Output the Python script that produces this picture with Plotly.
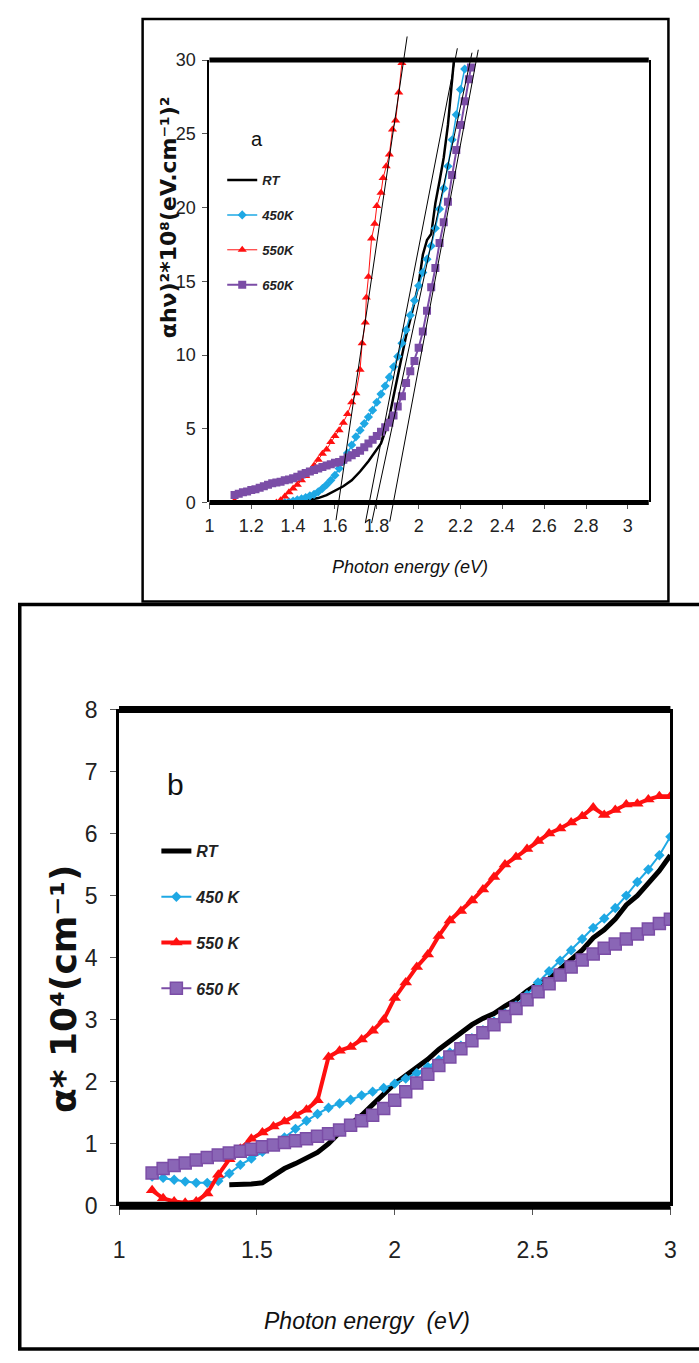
import plotly.graph_objects as go

W, H = 699, 1363
ARIAL = "Liberation Sans, Arial, sans-serif"
WIDE = "DejaVu Sans, Verdana, sans-serif"

# ---------------- Panel (a): (alpha h nu)^2 * 1e8 vs photon energy ----------------
a_rt_x = [1.12, 1.20, 1.28, 1.36, 1.40, 1.44, 1.48, 1.52, 1.56, 1.60, 1.64, 1.68, 1.72, 1.76,
          1.80, 1.82, 1.84, 1.86, 1.88, 1.90, 1.92, 1.94, 1.96, 1.98, 2.00, 2.02, 2.04, 2.06,
          2.08, 2.10, 2.12, 2.14, 2.16, 2.17]
a_rt_y = [0, 0, 0, 0, 0.02, 0.08, 0.18, 0.3, 0.5, 0.8, 1.1, 1.5, 2.1, 2.8,
          3.6, 4.0, 4.8, 5.8, 7.2, 8.6, 9.8, 11.3, 12.4, 13.6, 14.8, 16.8, 17.8, 18.2,
          20.3, 21.8, 23.4, 25.6, 28.6, 30.2]

a_450_x = [1.36, 1.38, 1.40, 1.42, 1.44, 1.46, 1.48, 1.50, 1.52, 1.54, 1.56, 1.58, 1.60, 1.62,
           1.64, 1.66, 1.68, 1.70, 1.72, 1.74, 1.76, 1.78, 1.80, 1.82, 1.84, 1.86, 1.88, 1.90,
           1.92, 1.94, 1.96, 1.98, 2.00, 2.02, 2.04, 2.06, 2.08, 2.10, 2.12, 2.14, 2.16, 2.18,
           2.20, 2.22]
a_450_y = [0.0, 0.05, 0.1, 0.18, 0.25, 0.33, 0.45, 0.55, 0.72, 0.95, 1.2, 1.5, 1.85, 2.3,
           2.8, 3.35, 3.9, 4.45, 4.9, 5.35, 5.8, 6.25, 6.8, 7.35, 7.9, 8.5, 9.2, 9.9,
           10.8, 11.7, 12.7, 13.7, 14.7, 15.6, 16.5, 17.4, 18.6, 19.9, 21.3, 22.8, 24.6, 26.3,
           28.0, 29.4]

a_550_x = [1.12, 1.14, 1.16, 1.18, 1.20, 1.22, 1.24, 1.26, 1.28, 1.30, 1.32, 1.34, 1.36, 1.38,
           1.40, 1.42, 1.44, 1.46, 1.48, 1.50, 1.52, 1.54, 1.56, 1.58, 1.60, 1.62, 1.64, 1.66,
           1.68, 1.70, 1.72, 1.73, 1.745, 1.75, 1.76, 1.775, 1.79, 1.80, 1.82, 1.83, 1.845, 1.86,
           1.875, 1.89, 1.905, 1.92]
a_550_y = [0.1, -0.1, -0.2, -0.3, -0.35, -0.35, -0.35, -0.3, -0.25, -0.15, 0.0, 0.15, 0.4, 0.7,
           0.95, 1.2, 1.5, 1.8, 2.1, 2.5, 2.9, 3.3, 3.6, 4.1, 4.5, 4.9, 5.4, 6.0,
           6.8, 7.4, 9.0, 10.8, 12.2, 13.9, 15.3, 17.9, 18.9, 20.1, 21.0, 22.0, 22.8, 23.6,
           25.3, 25.9, 27.8, 29.8]

a_650_x = [1.12, 1.14, 1.16, 1.18, 1.20, 1.22, 1.24, 1.26, 1.28, 1.30, 1.32, 1.34, 1.36, 1.38,
           1.40, 1.42, 1.44, 1.46, 1.48, 1.50, 1.52, 1.54, 1.56, 1.58, 1.60, 1.62, 1.64, 1.66,
           1.68, 1.70, 1.72, 1.74, 1.76, 1.78, 1.80, 1.82, 1.84, 1.86, 1.88, 1.90, 1.92, 1.94,
           1.96, 1.98, 2.00, 2.02, 2.04, 2.06, 2.08, 2.10, 2.12, 2.14, 2.16, 2.18, 2.20, 2.22,
           2.24, 2.25]
a_650_y = [0.5, 0.6, 0.7, 0.75, 0.85, 0.9, 1.0, 1.1, 1.2, 1.3, 1.35, 1.4, 1.5, 1.55,
           1.65, 1.75, 1.9, 2.0, 2.1, 2.2, 2.3, 2.4, 2.5, 2.6, 2.7, 2.75, 2.9, 3.05,
           3.2, 3.35, 3.5, 3.75, 4.0, 4.25, 4.5, 4.8, 5.1, 5.4, 5.9, 6.5, 7.2, 8.1,
           8.9, 9.6, 10.5, 11.6, 13.0, 14.6, 15.9, 17.6, 19.0, 20.4, 22.2, 23.9, 25.6, 27.2,
           28.7, 29.5]

# Linear extrapolation lines (Tauc fits): start/end points in data units
tan_x0 = [1.605, 1.745, 1.775, 1.862]
tan_y0 = [-1.2, -1.4, -1.4, -1.3]
tan_x1 = [1.945, 2.185, 2.255, 2.285]
tan_y1 = [31.6, 30.8, 30.5, 30.7]

a_xticks = [1.0, 1.2, 1.4, 1.6, 1.8, 2.0, 2.2, 2.4, 2.6, 2.8, 3.0]
a_xtext = ["1", "1.2", "1.4", "1.6", "1.8", "2", "2.2", "2.4", "2.6", "2.8", "3"]
a_yticks = [0, 5, 10, 15, 20, 25, 30]
A_XR = [1.0, 3.1]
A_YR = [0, 30]

# ---------------- Panel (b): alpha * 1e4 vs photon energy ----------------
b_energy = [1.12, 1.16, 1.20, 1.24, 1.28, 1.32, 1.36, 1.40, 1.44, 1.48, 1.52, 1.56, 1.60, 1.64,
            1.68, 1.72, 1.76, 1.80, 1.84, 1.88, 1.92, 1.96, 2.00, 2.04, 2.08, 2.12, 2.16, 2.20,
            2.24, 2.28, 2.32, 2.36, 2.40, 2.44, 2.48, 2.52, 2.56, 2.60, 2.64, 2.68, 2.72, 2.76,
            2.80, 2.84, 2.88, 2.92, 2.96, 3.00]
b_rt = [None, None, None, None, None, None, None, 0.34, 0.34, 0.35, 0.37, 0.48, 0.60, 0.68,
        0.76, 0.86, 1.00, 1.18, 1.32, 1.46, 1.63, 1.80, 1.97, 2.10, 2.22, 2.36, 2.52, 2.65,
        2.80, 2.92, 3.02, 3.10, 3.22, 3.32, 3.46, 3.58, 3.66, 3.82, 3.96, 4.12, 4.32, 4.45,
        4.62, 4.85, 5.00, 5.20, 5.40, 5.65]
b_450 = [0.47, 0.45, 0.42, 0.39, 0.37, 0.37, 0.40, 0.52, 0.66, 0.76, 0.87, 0.97, 1.10, 1.24,
         1.37, 1.48, 1.58, 1.65, 1.71, 1.78, 1.84, 1.90, 1.97, 2.05, 2.14, 2.24, 2.35, 2.47,
         2.58, 2.70, 2.83, 2.97, 3.10, 3.23, 3.40, 3.60, 3.78, 3.95, 4.12, 4.30, 4.48, 4.63,
         4.80, 5.00, 5.22, 5.42, 5.65, 5.95]
b_550 = [0.25, 0.12, 0.07, 0.05, 0.07, 0.20, 0.50, 0.75, 0.92, 1.08, 1.18, 1.28, 1.36, 1.45,
         1.55, 1.70, 2.40, 2.50, 2.56, 2.68, 2.82, 3.00, 3.35, 3.60, 3.85, 4.05, 4.35, 4.60,
         4.75, 4.92, 5.10, 5.30, 5.50, 5.62, 5.75, 5.88, 6.00, 6.08, 6.18, 6.28, 6.42, 6.30,
         6.38, 6.47, 6.48, 6.55, 6.60, 6.60]
b_650 = [0.53, 0.60, 0.65, 0.69, 0.74, 0.78, 0.82, 0.85, 0.88, 0.91, 0.95, 0.98, 1.02, 1.05,
         1.08, 1.12, 1.16, 1.22, 1.30, 1.37, 1.46, 1.57, 1.70, 1.84, 1.98, 2.12, 2.26, 2.40,
         2.53, 2.66, 2.79, 2.92, 3.05, 3.18, 3.32, 3.45, 3.58, 3.72, 3.85, 3.96, 4.06, 4.15,
         4.22, 4.30, 4.38, 4.46, 4.55, 4.62]

b_xticks = [1.0, 1.5, 2.0, 2.5, 3.0]
b_xtext = ["1", "1.5", "2", "2.5", "3"]
b_yticks = [0, 1, 2, 3, 4, 5, 6, 7, 8]
B_XR = [1.0, 3.0]
B_YR = [0, 8]

CYAN = "#1EA8E4"
RED = "#FF1010"
PURPLE = "#7B4DA6"
PURPLE_FILL = "#8A66B6"


def px(v):
    return v / W


def py(v):
    return 1 - v / H


fig = go.Figure()

# ----- panel (a) traces -----
fig.add_trace(go.Scatter(x=a_rt_x, y=a_rt_y, mode="lines", name="RT",
                         line=dict(color="black", width=2.5),
                         xaxis="x", yaxis="y", legend="legend", legendgroup="a1"))
fig.add_trace(go.Scatter(x=a_450_x, y=a_450_y, mode="lines+markers", name="450K",
                         line=dict(color=CYAN, width=1.5),
                         marker=dict(symbol="diamond", size=7, color=CYAN),
                         xaxis="x", yaxis="y", legend="legend", legendgroup="a2"))
fig.add_trace(go.Scatter(x=a_550_x, y=a_550_y, mode="lines+markers", name="550K",
                         line=dict(color=RED, width=1),
                         marker=dict(symbol="triangle-up", size=8, color=RED),
                         cliponaxis=False,
                         xaxis="x", yaxis="y", legend="legend", legendgroup="a3"))
fig.add_trace(go.Scatter(x=a_650_x, y=a_650_y, mode="lines+markers", name="650K",
                         line=dict(color=PURPLE, width=2),
                         marker=dict(symbol="square", size=8, color=PURPLE),
                         xaxis="x", yaxis="y", legend="legend", legendgroup="a4"))

# ----- panel (b) traces -----
fig.add_trace(go.Scatter(x=b_energy, y=b_rt, mode="lines", name="RT",
                         line=dict(color="black", width=5),
                         xaxis="x2", yaxis="y2", legend="legend2", legendgroup="b1"))
fig.add_trace(go.Scatter(x=b_energy, y=b_450, mode="lines+markers", name="450 K",
                         line=dict(color=CYAN, width=2),
                         marker=dict(symbol="diamond", size=8, color=CYAN),
                         xaxis="x2", yaxis="y2", legend="legend2", legendgroup="b2"))
fig.add_trace(go.Scatter(x=b_energy, y=b_550, mode="lines+markers", name="550 K",
                         line=dict(color=RED, width=4),
                         marker=dict(symbol="triangle-up", size=11, color=RED),
                         xaxis="x2", yaxis="y2", legend="legend2", legendgroup="b3"))
fig.add_trace(go.Scatter(x=b_energy, y=b_650, mode="lines+markers", name="650 K",
                         line=dict(color=PURPLE, width=2),
                         marker=dict(symbol="square", size=12, color=PURPLE_FILL,
                                     line=dict(color=PURPLE, width=1.5)),
                         xaxis="x2", yaxis="y2", legend="legend2", legendgroup="b4"))

shapes = []
# Tauc extrapolation lines (domain refs so they may run past the frame, as in the figure)
for x0, y0, x1, y1 in zip(tan_x0, tan_y0, tan_x1, tan_y1):
    shapes.append(dict(type="line", xref="x domain", yref="y domain",
                       x0=(x0 - A_XR[0]) / (A_XR[1] - A_XR[0]), y0=(y0 - A_YR[0]) / (A_YR[1] - A_YR[0]),
                       x1=(x1 - A_XR[0]) / (A_XR[1] - A_XR[0]), y1=(y1 - A_YR[0]) / (A_YR[1] - A_YR[0]),
                       line=dict(color="black", width=1)))

# thick top / bottom frame lines
for xr, yr, wt, wb in (("x domain", "y domain", 5, 5), ("x2 domain", "y2 domain", 7, 8)):
    shapes.append(dict(type="line", xref=xr, yref=yr, x0=0, x1=1, y0=1, y1=1,
                       line=dict(color="black", width=wt)))
    shapes.append(dict(type="line", xref=xr, yref=yr, x0=0, x1=1, y0=0, y1=0,
                       line=dict(color="black", width=wb)))

# outer boxes of the two panels
shapes.append(dict(type="rect", xref="paper", yref="paper",
                   x0=px(139), x1=px(674), y0=py(600), y1=py(6),
                   line=dict(color="black", width=2.5)))
shapes.append(dict(type="rect", xref="paper", yref="paper",
                   x0=px(14), x1=1.02, y0=py(1362), y1=py(603),
                   line=dict(color="black", width=3.5)))

tick_font_a = dict(family=ARIAL, size=18, color="#222")
tick_font_b = dict(family=ARIAL, size=23, color="#222")

fig.update_layout(
    width=W, height=H,
    margin=dict(l=0, r=0, t=0, b=0),
    paper_bgcolor="white", plot_bgcolor="white",
    showlegend=True,
    shapes=shapes,
    xaxis=dict(domain=[px(207), px(654)], range=A_XR, anchor="y",
               tickmode="array", tickvals=a_xticks, ticktext=a_xtext,
               ticks="outside", ticklen=6, tickwidth=1, tickcolor="#555",
               showgrid=False, zeroline=False, showline=False,
               tickfont=tick_font_a, ticklabelstandoff=1),
    yaxis=dict(domain=[py(499), py(48)], range=A_YR, anchor="x",
               tickmode="array", tickvals=a_yticks,
               ticks="outside", ticklen=5, tickwidth=1, tickcolor="#555",
               showgrid=False, zeroline=False,
               showline=True, mirror=True, linewidth=2, linecolor="black",
               tickfont=tick_font_a, ticklabelstandoff=3),
    xaxis2=dict(domain=[px(115), px(676)], range=B_XR, anchor="y2",
                tickmode="array", tickvals=b_xticks, ticktext=b_xtext,
                ticks="outside", ticklen=8, tickwidth=1, tickcolor="#555",
                showgrid=False, zeroline=False, showline=False,
                tickfont=tick_font_b, ticklabelstandoff=16),
    yaxis2=dict(domain=[py(1216), py(710)], range=B_YR, anchor="x2",
                tickmode="array", tickvals=b_yticks,
                ticks="outside", ticklen=6, tickwidth=1, tickcolor="#555",
                showgrid=False, zeroline=False,
                showline=True, mirror=True, linewidth=3, linecolor="black",
                tickfont=tick_font_b, ticklabelstandoff=8),
    legend=dict(x=px(220), y=py(155), xanchor="left", yanchor="top",
                bgcolor="rgba(0,0,0,0)", traceorder="grouped", tracegroupgap=15,
                font=dict(family=ARIAL, size=13, color="#222", style="italic", weight="bold")),
    legend2=dict(x=px(153), y=py(837), xanchor="left", yanchor="top",
                 bgcolor="rgba(0,0,0,0)", traceorder="grouped", tracegroupgap=22,
                 font=dict(family=ARIAL, size=16, color="#222", style="italic", weight="bold")),
)


def note(text, x, y, font, angle=0):
    return dict(text=text, x=px(x), y=py(y), xref="paper", yref="paper", showarrow=False,
                xanchor="center", yanchor="middle", textangle=angle, font=font)


annotations = [
    note("a", 255, 128, dict(family=ARIAL, size=20, color="#111")),
    note("b", 172, 787, dict(family=ARIAL, size=30, color="#111")),
    note("Photon energy (eV)", 411, 565, dict(family=ARIAL, size=18, color="#111", style="italic")),
    note("Photon energy\u00a0 (eV)", 367, 1333, dict(family=ARIAL, size=23, color="#111", style="italic")),
    note("\u03b1h\u03bd)\u00b2*10\u2078(eV.cm\u207b\u00b9)\u00b2", 165, 208,
         dict(family=WIDE, size=22, color="#111", weight="bold"), -90),
    note("\u03b1* 10\u2074(cm\u207b\u00b9)", 58, 995,
         dict(family=WIDE, size=36, color="#111", weight="bold"), -90),
]
fig.update_layout(annotations=annotations)

fig.write_html("out.html")
